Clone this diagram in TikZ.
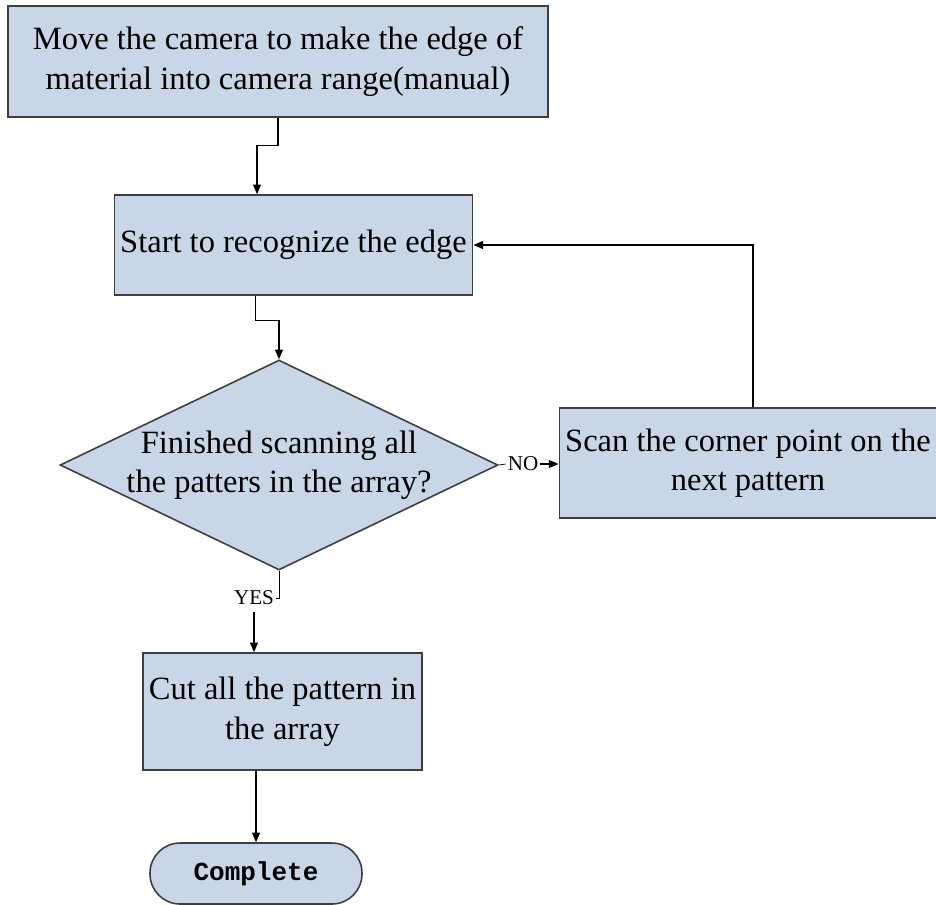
\documentclass[tikz,border=0pt]{standalone}
\usepackage{fontspec}
\setmainfont{Liberation Serif}
\newfontfamily\flowmono{Liberation Mono}
\usetikzlibrary{arrows.meta,positioning,shapes.geometric}
\definecolor{boxfill}{RGB}{200,214,231}
\definecolor{boxline}{RGB}{62,62,62}

\begin{document}
\begin{tikzpicture}[
    x=0.02cm, y=-0.02cm,
    block/.style={rectangle, draw=boxline, fill=boxfill, line width=0.9pt, align=center,
                  font=\fontsize{18.5}{22.5}\selectfont},
    decision/.style={diamond, draw=boxline, fill=boxfill, line width=0.9pt,
                     minimum width=8.76cm, minimum height=4.2cm, inner sep=0pt},
    terminal/.style={rectangle, rounded corners=0.6cm, draw=boxline, fill=boxfill, line width=0.9pt,
                     minimum width=4.24cm, minimum height=1.22cm, font=\flowmono\bfseries\fontsize{14.8}{16}\selectfont},
    tag/.style={font=\fontsize{12}{14}\selectfont, inner sep=1pt},
    arrow/.style={-{Triangle[length=5.5pt,width=4.5pt]}, line width=0.8pt}
]
\useasboundingbox (0,0) rectangle (936,904);

\node[block, minimum width=10.8cm, minimum height=2.22cm] (move) at (278,61.5)
    {Move the camera to make the edge of\\material into camera range(manual)};
\node[block, minimum width=6.02cm, minimum height=2.0cm] (recog) at (293.5,245)
    {Start to recognize the edge};
\node[decision] (dia) at (279,465) {};
\node[align=center, font=\fontsize{18.5}{22.5}\selectfont] (diatext) at (dia.center)
    {Finished scanning all\\the patters in the array?};
\node[block, minimum width=7.52cm, minimum height=2.2cm] (scan) at (748,463)
    {Scan the corner point on the\\next pattern};
\node[block, minimum width=5.38cm, minimum height=2.34cm] (cut) at (282.5,711.5)
    {Cut all the pattern in\\the array};
\node[terminal] (done) at (256,873.5) {Complete};

\node[tag] (no) at (523,464) {NO};
\node[tag, inner ysep=4pt] (yes) at (254,598) {YES};

\draw[arrow] (move.south) -- ++(0,28) -| ([xshift=-0.73cm]recog.north);
\draw[arrow] ([xshift=-0.76cm]recog.south) -- ++(0,25) -| (dia.north);
\draw (dia.south) |- (yes.east);
\draw[arrow] (yes.south) -- (yes.south |- cut.north);
\draw (dia.east) -- (no.west);
\draw[arrow] (no.east) -- (no.east -| scan.west);
\draw[arrow] ([xshift=0.1cm]scan.north) |- (recog.east);
\draw[arrow] (done.north |- cut.south) -- (done.north);
\end{tikzpicture}
\end{document}
